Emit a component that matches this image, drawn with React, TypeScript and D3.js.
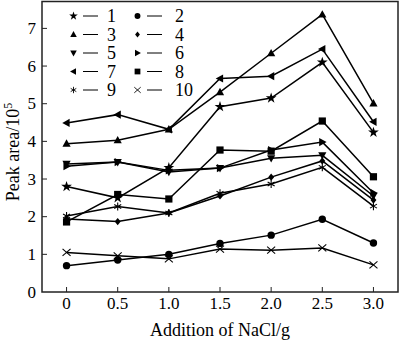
import React from "react";
import * as d3 from "d3";

const xValues = [0, 0.5, 1.0, 1.5, 2.0, 2.5, 3.0];
const xTickLabels = ["0", "0.5", "1.0", "1.5", "2.0", "2.5", "3.0"];
const yTicks = [0, 1, 2, 3, 4, 5, 6, 7];

const s1 = [2.80, 2.50, 3.30, 4.92, 5.15, 6.10, 4.24];
const s2 = [0.70, 0.85, 1.00, 1.29, 1.51, 1.93, 1.30];
const s3 = [3.94, 4.03, 4.32, 5.31, 6.34, 7.37, 5.01];
const s4 = [1.94, 1.87, 2.10, 2.55, 3.05, 3.48, 2.44];
const s5 = [3.40, 3.45, 3.19, 3.29, 3.55, 3.63, 2.55];
const s6 = [3.34, 3.45, 3.23, 3.29, 3.77, 3.98, 2.63];
const s7 = [4.49, 4.71, 4.32, 5.67, 5.73, 6.45, 4.52];
const s8 = [1.86, 2.59, 2.47, 3.77, 3.74, 4.54, 3.06];
const s9 = [2.02, 2.27, 2.10, 2.62, 2.87, 3.31, 2.28];
const s10 = [1.05, 0.96, 0.88, 1.14, 1.11, 1.17, 0.72];

const seriesNames = ["1", "2", "3", "4", "5", "6", "7", "8", "9", "10"];
const seriesData = [s1, s2, s3, s4, s5, s6, s7, s8, s9, s10];
const markerKinds = ["star", "circle", "triUp", "diamond", "triDown", "triRight", "triLeft", "square", "asterisk", "cross"];

const W = 400, H = 340;
const x = d3.scaleLinear().domain([-0.24, 3.24]).range([42, 398]);
const y = d3.scaleLinear().domain([0, 7]).range([292, 28.4]);

const FONT = "'Liberation Serif', 'Times New Roman', Times, serif";

function Marker({ kind, cx, cy, s = 1 }: { kind: string; cx: number; cy: number; s?: number }) {
  const t = `translate(${cx},${cy}) scale(${s})`;
  switch (kind) {
    case "star":
      return <path transform={t} d={d3.symbol(d3.symbolStar, 36)()!} fill="#000" />;
    case "circle":
      return <circle cx={cx} cy={cy} r={3.7 * s} fill="#000" />;
    case "triUp":
      return <path transform={t} d="M0,-4.3L4.1,3.1L-4.1,3.1Z" fill="#000" />;
    case "triDown":
      return <path transform={t} d="M0,4.3L4.1,-3.1L-4.1,-3.1Z" fill="#000" />;
    case "triRight":
      return <path transform={t} d="M4.3,0L-3.1,4.1L-3.1,-4.1Z" fill="#000" />;
    case "triLeft":
      return <path transform={t} d="M-4.3,0L3.1,4.1L3.1,-4.1Z" fill="#000" />;
    case "diamond":
      return <path transform={t} d="M0,-3.6L3,0L0,3.6L-3,0Z" fill="#000" />;
    case "square":
      return <rect transform={t} x={-3.6} y={-3.6} width={7.2} height={7.2} fill="#000" />;
    case "asterisk":
      return (
        <g transform={t} stroke="#000" strokeWidth={1.1}>
          <line x1={0} y1={-4} x2={0} y2={4} />
          <line x1={-3.5} y1={-2} x2={3.5} y2={2} />
          <line x1={-3.5} y1={2} x2={3.5} y2={-2} />
        </g>
      );
    case "cross":
      return (
        <g transform={t} stroke="#000" strokeWidth={1.1}>
          <line x1={-4} y1={-3.5} x2={4} y2={3.5} />
          <line x1={-4} y1={3.5} x2={4} y2={-3.5} />
        </g>
      );
    default:
      return null;
  }
}

export default function App() {
  const line = d3
    .line<number>()
    .x((_, i) => x(xValues[i]))
    .y((d) => y(d));

  const legendRows = [16, 34.5, 53, 71.5, 90];

  return (
    <svg width={W} height={H} style={{ position: "absolute", left: 0, top: 0, fontFamily: FONT }}>
      <rect x={0} y={0} width={W} height={H} fill="#fff" />
      <rect x={42} y={1.5} width={356} height={290.5} fill="none" stroke="#222" strokeWidth={1.5} />
      {yTicks.map((t) => (
        <g key={"y" + t}>
          {t > 0 && <line x1={42} x2={47} y1={y(t)} y2={y(t)} stroke="#222" strokeWidth={1} />}
          <text x={36} y={y(t) + 5.5} textAnchor="end" fontSize={17} fill="#000" style={{ fontFamily: FONT }}>
            {t}
          </text>
        </g>
      ))}
      {xValues.map((v, i) => (
        <g key={"x" + i}>
          <line x1={x(v)} x2={x(v)} y1={292} y2={287} stroke="#222" strokeWidth={1} />
          <text x={x(v)} y={309} textAnchor="middle" fontSize={17} fill="#000" style={{ fontFamily: FONT }}>
            {xTickLabels[i]}
          </text>
        </g>
      ))}
      <text x={220} y={336} textAnchor="middle" fontSize={18} fill="#000" style={{ fontFamily: FONT }}>
        Addition of NaCl/g
      </text>
      <text transform="translate(19,152) rotate(-90)" textAnchor="middle" fontSize={18} fill="#000" style={{ fontFamily: FONT }}>
        Peak area/10<tspan dy={-7} fontSize={12}>5</tspan>
      </text>
      {seriesData.map((d, si) => (
        <g key={"s" + si}>
          <path d={line(d)!} fill="none" stroke="#000" strokeWidth={1.5} />
          {d.map((v, i) => (
            <Marker key={i} kind={markerKinds[si]} cx={x(xValues[i])} cy={y(v)} />
          ))}
        </g>
      ))}
      {seriesNames.map((name, i) => {
        const col = i % 2;
        const row = Math.floor(i / 2);
        const yy = legendRows[row];
        const mx = col === 0 ? 73.5 : 137.5;
        const lx1 = col === 0 ? 83 : 147;
        const lx2 = col === 0 ? 98 : 162;
        const tx = col === 0 ? 107 : 175;
        return (
          <g key={"l" + i}>
            <Marker kind={markerKinds[i]} cx={mx} cy={yy} s={0.8} />
            <line x1={lx1} x2={lx2} y1={yy} y2={yy} stroke="#000" strokeWidth={1} />
            <text x={tx} y={yy + 6} fontSize={18} fill="#000" style={{ fontFamily: FONT }}>
              {name}
            </text>
          </g>
        );
      })}
    </svg>
  );
}
